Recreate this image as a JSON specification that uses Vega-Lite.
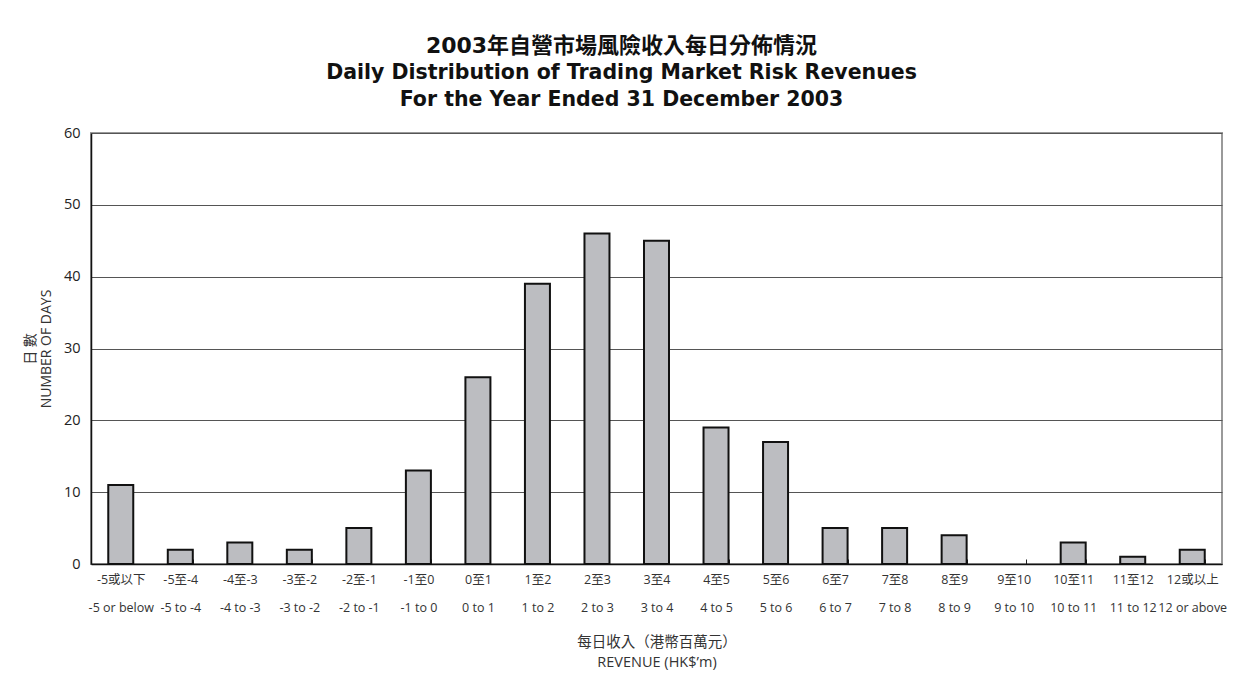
{
  "$schema": "https://vega.github.io/schema/vega-lite/v6.json",
  "width": 1131,
  "height": 431,
  "autosize": {"type": "none"},
  "padding": {"left": 91, "top": 133, "right": 20, "bottom": 126},
  "background": "white",
  "title": {
    "text": "2003年自營市場風險收入每日分佈情況",
    "subtitle": ["Daily Distribution of Trading Market Risk Revenues", "For the Year Ended 31 December 2003"],
    "font": "DejaVu Sans, Noto Sans CJK TC",
    "fontSize": 22,
    "fontWeight": "bold",
    "color": "#111",
    "subtitleFont": "DejaVu Sans",
    "subtitleFontSize": 20.5,
    "subtitleFontWeight": "bold",
    "subtitleColor": "#111",
    "subtitleLineHeight": 27,
    "subtitlePadding": 5,
    "anchor": "middle",
    "dx": -35,
    "offset": 14
  },
  "data": {
    "values": [
      {"range": "-5或以下|-5 or below", "days": 11},
      {"range": "-5至-4|-5 to -4", "days": 2},
      {"range": "-4至-3|-4 to -3", "days": 3},
      {"range": "-3至-2|-3 to -2", "days": 2},
      {"range": "-2至-1|-2 to -1", "days": 5},
      {"range": "-1至0|-1 to 0", "days": 13},
      {"range": "0至1|0 to 1", "days": 26},
      {"range": "1至2|1 to 2", "days": 39},
      {"range": "2至3|2 to 3", "days": 46},
      {"range": "3至4|3 to 4", "days": 45},
      {"range": "4至5|4 to 5", "days": 19},
      {"range": "5至6|5 to 6", "days": 17},
      {"range": "6至7|6 to 7", "days": 5},
      {"range": "7至8|7 to 8", "days": 5},
      {"range": "8至9|8 to 9", "days": 4},
      {"range": "9至10|9 to 10", "days": 0},
      {"range": "10至11|10 to 11", "days": 3},
      {"range": "11至12|11 to 12", "days": 1},
      {"range": "12或以上|12 or above", "days": 2}
    ]
  },
  "mark": {"type": "bar", "fill": "#bcbdc1", "stroke": "#111", "strokeWidth": 2},
  "encoding": {
    "x": {
      "field": "range",
      "type": "nominal",
      "sort": null,
      "scale": {"paddingInner": 0.58, "paddingOuter": 0.29},
      "axis": {
        "title": ["每日收入（港幣百萬元）", "REVENUE (HK$’m)"],
        "titleFont": "Open Sans, Noto Sans CJK TC",
        "titleFontSize": 14.5,
        "titleFontWeight": "normal",
        "titleColor": "#333",
        "titleLineHeight": 20,
        "titlePadding": 22,
        "labelExpr": "split(datum.label, '|')",
        "labelAngle": 0,
        "labelFont": "Open Sans, Noto Sans CJK TC",
        "labelFontSize": 12.5,
        "labelColor": "#333",
        "labelLineHeight": 28,
        "labelPadding": 14,
        "labelOverlap": false,
        "labelLimit": 0,
        "tickBand": "extent",
        "tickSize": -5,
        "tickColor": "#222",
        "domainColor": "#111",
        "domainWidth": 1.5
      }
    },
    "y": {
      "field": "days",
      "type": "quantitative",
      "scale": {"domain": [0, 60]},
      "axis": {
        "values": [0, 10, 20, 30, 40, 50, 60],
        "title": ["日 數", "NUMBER OF DAYS"],
        "titleFont": "Open Sans, Noto Sans CJK TC",
        "titleFontSize": 14,
        "titleFontWeight": "normal",
        "titleColor": "#333",
        "titleLineHeight": 16,
        "titlePadding": 10,
        "labelFont": "Open Sans",
        "labelFontSize": 14.5,
        "labelColor": "#222",
        "labelPadding": 11,
        "ticks": false,
        "grid": true,
        "gridColor": "#555",
        "gridWidth": 1,
        "domainColor": "#111",
        "domainWidth": 1.5
      }
    },
    "strokeOpacity": {"condition": {"test": "datum.days == 0", "value": 0}, "value": 1}
  },
  "config": {
    "view": {"stroke": "#9a9a9a", "strokeWidth": 2}
  }
}
